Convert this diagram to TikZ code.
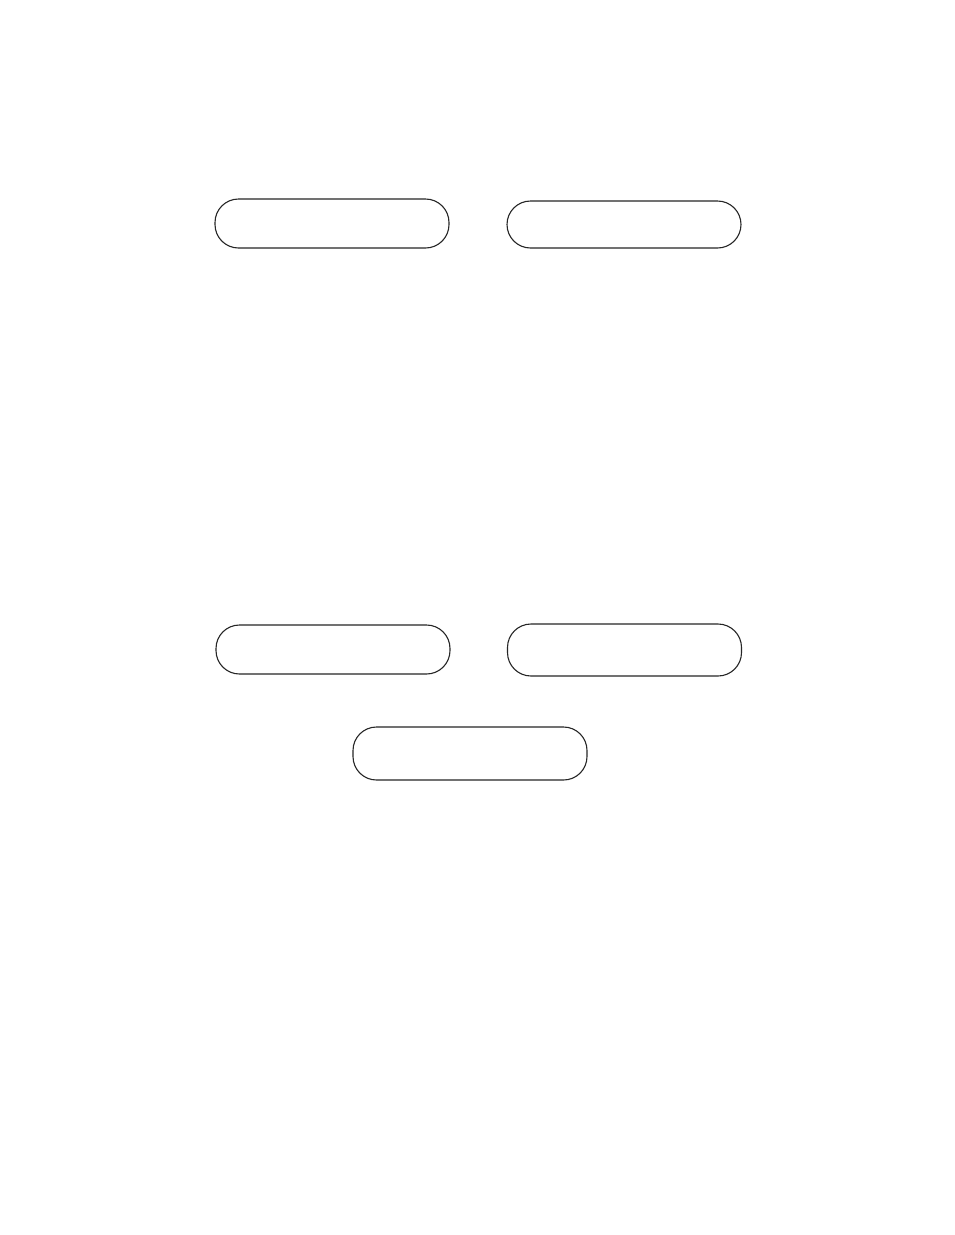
\documentclass[tikz,border=0pt]{standalone}
\begin{document}
\begin{tikzpicture}[x=1pt,y=-1pt,
  pill/.style={draw=black!85, line width=1.1pt, rounded corners=23.5pt, inner sep=0pt, minimum width=234pt, minimum height=49pt}]
\useasboundingbox (0,0) rectangle (954,1235);
\fill[white] (0,0) rectangle (954,1235);
\node[pill] (b1) at (332,223.5) {};
\node[pill, minimum height=47pt] (b2) at (624,224.5) {};
\node[pill] (b3) at (333,649.5) {};
\node[pill, minimum height=52pt] (b4) at (624.5,650) {};
\node[pill, minimum height=53pt] (b5) at (470,753.5) {};
\end{tikzpicture}
\end{document}
